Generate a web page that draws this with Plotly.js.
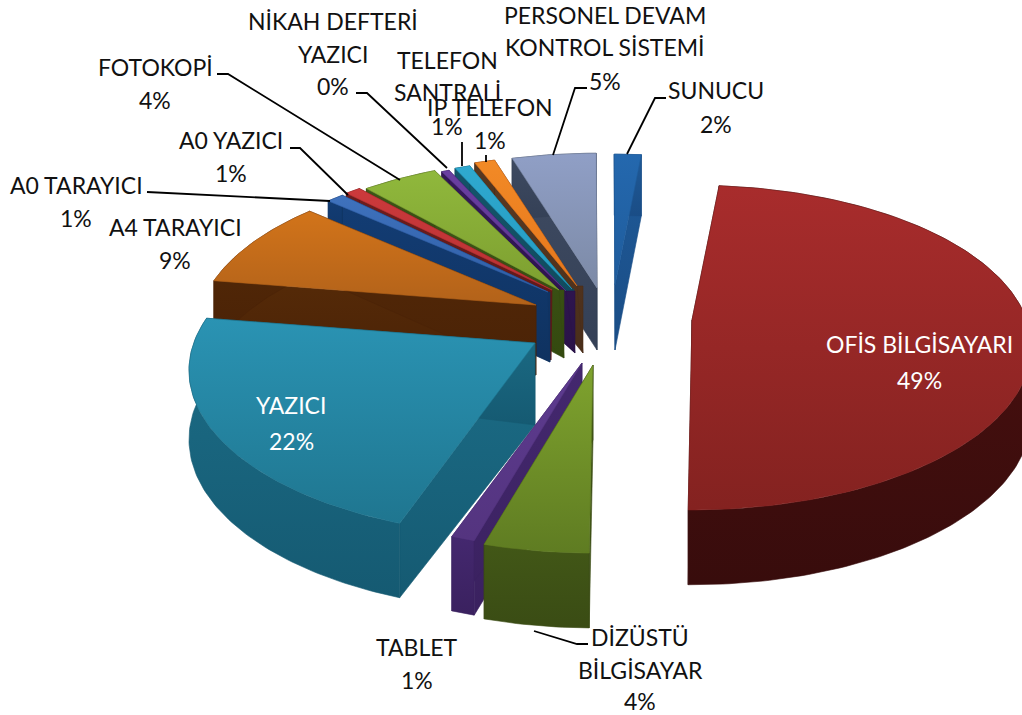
<!DOCTYPE html>
<html>
<head>
<meta charset="utf-8">
<script src="https://cdn.plot.ly/plotly-3.0.1.min.js"></script>
<style>html,body{margin:0;padding:0;background:#fff}#chart{width:1022px;height:715px}</style>
</head>
<body>
<div id="chart"></div>
<script>
// DATA (clockwise from the start angle, percent)
var categories = ["OFİS BİLGİSAYARI","DİZÜSTÜ BİLGİSAYAR","TABLET","YAZICI","A4 TARAYICI","A0 TARAYICI","A0 YAZICI","FOTOKOPİ","NİKAH DEFTERİ YAZICI","TELEFON SANTRALİ","IP TELEFON","PERSONEL DEVAM KONTROL SİSTEMİ","SUNUCU"];
var values = [48.6,4.4,1.0,21.9,8.8,1.0,0.9,4.4,0.45,0.9,1.2,4.85,1.6];

// Style / placement of the exploded 3-D pie
var startAngle = 5.6;
var apexX = [692,593,582,535,536,548,552,559,566,572,577,597,615];
var apexY = [320,365,363,343,305,292,290,290,291,289,286,288,285];
var baseX = [692,593,582,535,536,550,551,564,575,574,583,597,615];
var baseY = [392,440,438,425,375,362,360,358,353,352,353,350,350];
var sizeK = [1.03,1.02,1.01,1.05,1.03,1.0,1.0,1.0,1.0,1.0,1.0,1.03,1.0];
var topA  = ["#a82c2c","#7fa32e","#5d3b90","#2a93b3","#d2741a","#3f72bd","#cc3a3c","#90b83c","#6a3fa0","#2fa9cf","#f28a26","#909fc6","#2468ae"];
var topB  = ["#842220","#5f7c22","#54347f","#1f7690","#b2621a","#2f5ea6","#b83033","#7d9f30","#5a3590","#239ac0","#e6761c","#7c8aa6","#1f5c9c"];
var wallA = ["#4e1110","#425717","#44286f","#1c6d87","#552a08","#133d75","#6e1d1d","#40591a","#35195a","#14566c","#5a3a22","#3f4b62","#1f5a98"];
var wallB = ["#380c0c","#3a4c14","#3a215f","#155a72","#4a2206","#0f3260","#5a1616","#34490f","#2a1348","#0f4658","#4a2e1a","#344056","#1a4d86"];
var paintOrder = [12,11,10,9,8,7,6,5,4,0,3,2,1];

var RADIUS = 325, SQUASH = 0.485, PERSP = 0.17, DEPTH = 68, DEPTH_P = 0.1;
var FONT = "Lato, 'Open Sans', sans-serif", FSIZE = 23, INK = "#111111";

var labelText = [
  {i:0, lines:["OFİS BİLGİSAYARI"], x:919, y:[344,380], c:"#ffffff"},
  {i:1, lines:["DİZÜSTÜ","BİLGİSAYAR"], x:640, y:[637,670,701], c:INK},
  {i:2, lines:["TABLET"], x:417, y:[647,680], c:INK},
  {i:3, lines:["YAZICI"], x:291, y:[405,441], c:"#ffffff"},
  {i:4, lines:["A4 TARAYICI"], x:175, y:[227,260], c:INK},
  {i:5, lines:["A0 TARAYICI"], x:76, y:[185,218], c:INK},
  {i:6, lines:["A0 YAZICI"], x:231, y:[140,173], c:INK},
  {i:7, lines:["FOTOKOPİ"], x:155, y:[67,100], c:INK},
  {i:8, lines:["NİKAH DEFTERİ","YAZICI"], x:333, y:[21,54,86], c:INK},
  {i:9, lines:["TELEFON","SANTRALİ"], x:447, y:[60,92,126], c:INK},
  {i:10, lines:["IP TELEFON"], x:490, y:[107,140], c:INK},
  {i:11, lines:["PERSONEL DEVAM","KONTROL SİSTEMİ"], x:605, y:[15,47,81], c:INK},
  {i:12, lines:["SUNUCU"], x:716, y:[90,124], c:INK}
];
var leaderX = [[217,228,400],[356,367,447],[290,300,348],[147,330],[462,462],[486,486],[587,575,553],[666,655,627],[588,577,534]];
var leaderY = [[74,74,180],[93,93,168],[148,148,195],[192,201],[142,166],[155,162],[88,88,155],[98,98,154],[644,644,631]];

// Angles from values
var total = values.reduce(function(a,b){return a+b;},0);
var angles = [], acc = startAngle;
values.forEach(function(v){ var a = v/total*360; angles.push([acc,acc+a]); acc += a; });

function pt(i, deg){
  var t = deg*Math.PI/180, c = Math.cos(t), s = Math.sin(t);
  var r = RADIUS*sizeK[i]*(1-PERSP*c);
  return [apexX[i]+r*s, apexY[i]-SQUASH*r*c];
}
function dep(deg){ return DEPTH*(1-DEPTH_P*Math.cos(deg*Math.PI/180)); }
function arc(i){
  var a = angles[i], out = [], n = Math.max(2,Math.ceil(a[1]-a[0]));
  for (var k=0;k<=n;k++){ out.push(a[0]+(a[1]-a[0])*k/n); }
  return out;
}
function poly(xs, ys, c1, c2){
  return {type:"scatter", mode:"lines", x:xs, y:ys, fill:"toself", hoverinfo:"skip", showlegend:false,
    line:{width:0.6,color:c2},
    fillcolor:c1,
    fillgradient:{type:"vertical",colorscale:[[0,c2],[1,c1]]}};
}
var traces = [];
paintOrder.forEach(function(i){
  var a = angles[i], deg = arc(i), ax = apexX[i], ay = apexY[i], bx = baseX[i], by = baseY[i];
  var p0 = pt(i,a[0]), p1 = pt(i,a[1]);
  // cut walls
  traces.push(poly([ax,p0[0],p0[0],bx,bx,ax],[ay,p0[1],p0[1]+dep(a[0]),by,ay,ay],wallA[i],wallB[i]));
  traces.push(poly([ax,p1[0],p1[0],bx,ax],[ay,p1[1],p1[1]+dep(a[1]),by,ay],wallA[i],wallB[i]));
  // outer wall
  var wx=[],wy=[];
  deg.forEach(function(d){var p=pt(i,d);wx.push(p[0]);wy.push(p[1]);});
  deg.slice().reverse().forEach(function(d){var p=pt(i,d);wx.push(p[0]);wy.push(p[1]+dep(d));});
  wx.push(wx[0]);wy.push(wy[0]);
  traces.push(poly(wx,wy,wallA[i],wallB[i]));
  // top face
  var tx=[ax],ty=[ay];
  deg.forEach(function(d){var p=pt(i,d);tx.push(p[0]);ty.push(p[1]);});
  tx.push(ax);ty.push(ay);
  traces.push(poly(tx,ty,topA[i],topB[i]));
});
leaderX.forEach(function(lx,k){
  traces.push({type:"scatter",mode:"lines",x:lx,y:leaderY[k],hoverinfo:"skip",showlegend:false,line:{color:"#000",width:1.8}});
});

var annotations = [];
labelText.forEach(function(l){
  var rows = l.lines.concat([Math.round(values[l.i])+"%"]);
  rows.forEach(function(t,k){
    annotations.push({x:l.x,y:l.y[k],xref:"x",yref:"y",text:t,showarrow:false,xanchor:"center",yanchor:"middle",
      font:{family:FONT,size:FSIZE,color:l.c}});
  });
});

var layout = {
  width:1022,height:715,margin:{l:0,r:0,t:0,b:0},
  paper_bgcolor:"#fff",plot_bgcolor:"#fff",showlegend:false,
  xaxis:{range:[0,1022],visible:false,fixedrange:true},
  yaxis:{range:[715,0],visible:false,fixedrange:true},
  annotations:annotations
};
Plotly.newPlot("chart",traces,layout,{displayModeBar:false,staticPlot:true});
</script>
</body>
</html>
